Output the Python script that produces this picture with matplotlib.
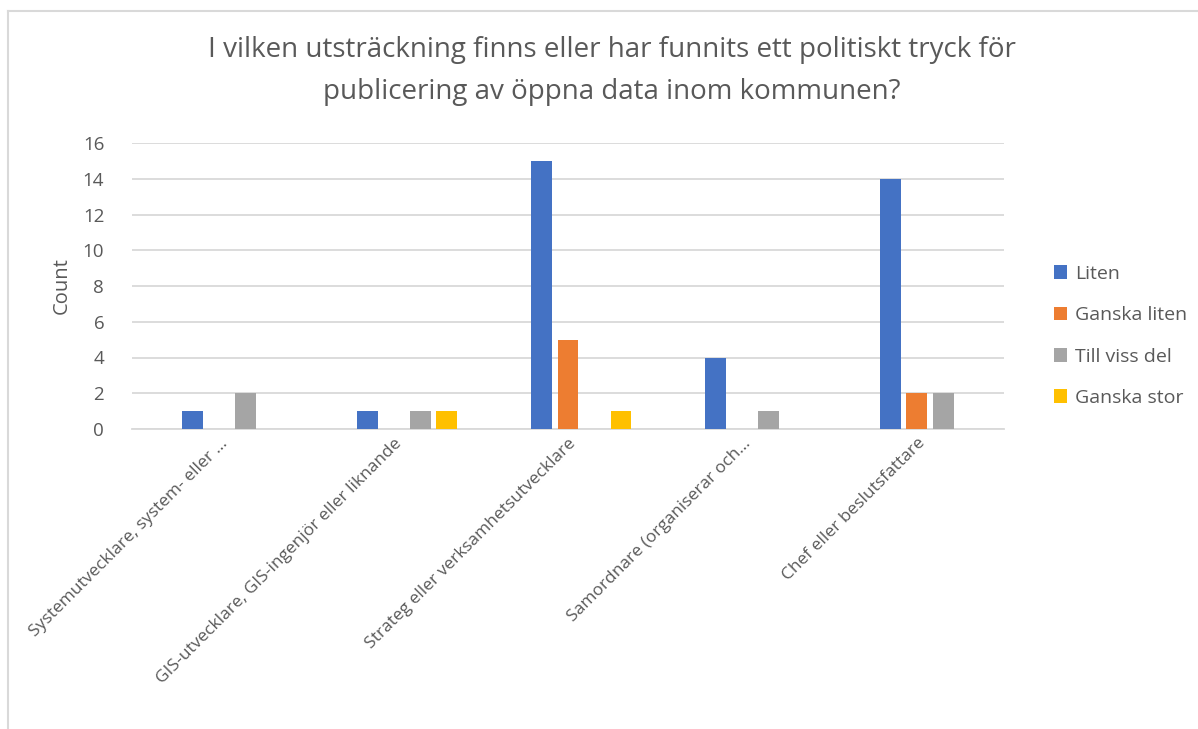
#-*- coding: utf-8 -*-
# ----- Include library -----
import numpy as np
import matplotlib
matplotlib.use("Agg")
import matplotlib.pyplot as plt
from matplotlib.lines import Line2D

# ----- Data -----
categories = ["Systemutvecklare, system- eller …",
              "GIS-utvecklare, GIS-ingenjör eller liknande",
              "Strateg eller verksamhetsutvecklare",
              "Samordnare (organiserar och...",
              "Chef eller beslutsfattare"]
series_names = ["Liten", "Ganska liten", "Till viss del", "Ganska stor"]
liten = [1, 1, 15, 4, 14]
ganska_liten = [0, 0, 5, 0, 2]
till_viss_del = [2, 1, 0, 1, 2]
ganska_stor = [0, 1, 1, 0, 0]
yticks = [0, 2, 4, 6, 8, 10, 12, 14, 16]
title = "I vilken utsträckning finns eller har funnits ett politiskt tryck för\npublicering av öppna data inom kommunen?"

colors = ["#4472C4", "#ED7D31", "#A5A5A5", "#FFC000"]
text_col = "#595959"
grid_col = "#D9D9D9"

plt.rcParams['font.family'] = ['Open Sans', 'DejaVu Sans']

# ----- Figure -----
fig = plt.figure(figsize=(11.98, 7.29), dpi=100)
ax = fig.add_axes([132/1198, 1-429/729, (1004-132)/1198, (429-143)/729])

x = np.arange(len(categories))
slot = 0.152
bw = 0.12
all_series = [liten, ganska_liten, till_viss_del, ganska_stor]
for i, (name, vals) in enumerate(zip(series_names, all_series)):
    # five slots per group, first one is empty in the source
    off = (i + 1 - 2) * slot
    ax.bar(x + off, vals, width=bw, color=colors[i], label=name, zorder=3)

ax.set_xlim(-0.5, len(categories) - 0.5)
ax.set_ylim(0, 16)
ax.set_yticks(yticks)
ax.yaxis.grid(True, color=grid_col, linewidth=1.3, zorder=0)
for s in ["top", "right", "left"]:
    ax.spines[s].set_visible(False)
ax.spines["bottom"].set_color(grid_col)
ax.spines["bottom"].set_linewidth(1.3)
ax.tick_params(axis="both", length=0, colors=text_col, labelsize=13.5)
ax.tick_params(axis="y", pad=20)
ax.set_xticks(x)
ax.set_xticklabels(categories, rotation=45, ha="right", rotation_mode="anchor",
                   fontsize=12.5, color=text_col)
for lbl in ax.get_xticklabels():
    lbl.set_y(-0.005)
ax.set_ylabel("Count", fontsize=14.5, color=text_col, labelpad=8)

fig.text(612/1198, 1-71/729, title, ha="center", va="center", fontsize=20,
         color=text_col, linespacing=1.62)

ax.legend(loc="center left", bbox_to_anchor=(1036/1198, 1-336/729),
          bbox_transform=fig.transFigure, frameon=False, fontsize=14,
          labelcolor=text_col, handlelength=0.7, handleheight=0.7,
          handletextpad=0.4, labelspacing=1.2)

# chart frame
fig.add_artist(Line2D([8/1198, 8/1198], [0, 1-11/729], color=grid_col, lw=1.5))
fig.add_artist(Line2D([8/1198, 1], [1-11/729, 1-11/729], color=grid_col, lw=1.5))

fig.savefig("out.png", dpi=100)
